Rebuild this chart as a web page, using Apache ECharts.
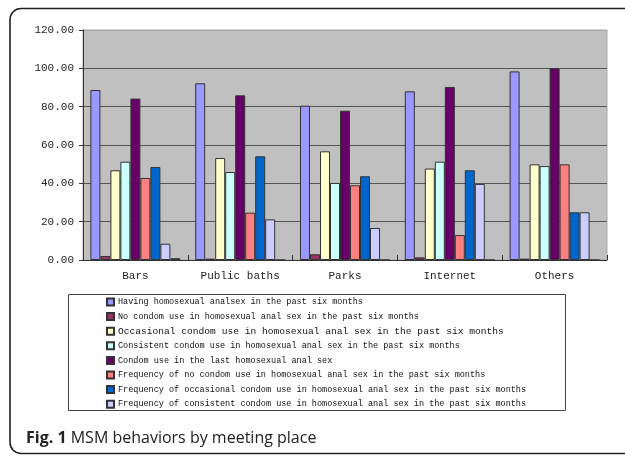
<!DOCTYPE html>
<html>
<head>
<meta charset="utf-8">
<script src="https://cdn.jsdelivr.net/npm/echarts@6/dist/echarts.min.js"></script>
<style>
html,body{margin:0;padding:0;background:#fff;}
#chart{width:625px;height:457px;}
</style>
</head>
<body>
<div id="chart"></div>
<script>
const categories = ['Bars', 'Public baths', 'Parks', 'Internet', 'Others'];
const seriesNames = [
  'Having homosexual analsex in the past six months',
  'No condom use in homosexual anal sex in the past six months',
  'Occasional condom use in homosexual anal sex in the past six months',
  'Consistent condom use in homosexual anal sex in the past six months',
  'Condom use in the last homosexual anal sex',
  'Frequency of no condom use in homosexual anal sex in the past six months',
  'Frequency of occasional condom use in homosexual anal sex in the past six months',
  'Frequency of consistent condom use in homosexual anal sex in the past six months',
  'Unlabelled'
];
const havingSex      = [88.7, 92.2, 80.5, 88.0, 98.4];
const noCondom       = [2.1, 0.7, 3.0, 1.4, 0.7];
const occasional     = [46.8, 53.2, 56.7, 47.7, 49.9];
const consistent     = [51.3, 45.9, 40.2, 51.3, 49.0];
const lastCondom     = [84.2, 85.9, 77.9, 90.3, 100.0];
const freqNoCondom   = [42.8, 24.7, 39.0, 13.0, 49.9];
const freqOccasional = [48.5, 54.1, 43.7, 46.8, 24.9];
const freqConsistent = [8.5, 21.2, 16.7, 39.7, 24.9];
const unlabelled     = [0.9, 0, 0, 0, 0];
const yTicks = [0, 20, 40, 60, 80, 100, 120];

const seriesData = [havingSex, noCondom, occasional, consistent, lastCondom,
  freqNoCondom, freqOccasional, freqConsistent, unlabelled];
const colors = ['#9999FF', '#993366', '#FFFFCC', '#CCFFFF', '#660066',
  '#FF8080', '#0066CC', '#CCCCFF', '#000080'];

const mono = '"Liberation Mono", monospace';
const chart = echarts.init(document.getElementById('chart'), null, {renderer: 'canvas'});

const legendData = seriesNames.slice(0, 8).map((n, i) => {
  if (i === 2) return {name: n, textStyle: {fontSize: 9.6, lineHeight: 10}};
  return {name: n};
});

chart.setOption({
  animation: false,
  color: colors,
  grid: {
    left: 83, right: 18, top: 30, bottom: 197,
    show: true, backgroundColor: '#c0c0c0', borderColor: '#a8a8a8', borderWidth: 1
  },
  legend: {
    data: legendData,
    orient: 'vertical',
    left: 106, top: 297,
    padding: 0,
    itemWidth: 7, itemHeight: 7,
    itemGap: 4.6,
    icon: 'rect',
    textStyle: {fontFamily: mono, fontSize: 8.5, color: '#111', lineHeight: 10, padding: [0, 0, 0, -1]},
    selectedMode: false
  },
  xAxis: {
    type: 'category',
    data: categories,
    axisLine: {show: true, lineStyle: {color: '#333', width: 1}},
    axisTick: {show: true, inside: true, length: 5, lineStyle: {color: '#333'}},
    axisLabel: {fontFamily: mono, fontSize: 11, color: '#222', margin: 11}
  },
  yAxis: {
    type: 'value',
    min: yTicks[0], max: yTicks[yTicks.length - 1], interval: 20,
    axisLine: {show: true, lineStyle: {color: '#333', width: 1}},
    axisTick: {show: true, length: 4, lineStyle: {color: '#333'}},
    axisLabel: {fontFamily: mono, fontSize: 11, color: '#222', margin: 9,
      formatter: v => v.toFixed(2)},
    splitLine: {show: true, lineStyle: {
      color: ['#555', '#555', '#555', '#555', '#555', '#555', '#a8a8a8'], width: 1}}
  },
  series: seriesData.map((d, i) => ({
    name: seriesNames[i],
    type: 'bar',
    data: d,
    barWidth: 10,
    barGap: '0%',
    itemStyle: {color: colors[i], borderColor: '#333', borderWidth: 1}
  })),
  graphic: [
    {
      type: 'rect', silent: true,
      shape: {x: 10, y: 8.5, width: 660, height: 445, r: 11},
      style: {fill: 'none', stroke: '#222', lineWidth: 1.6}
    },
    {
      type: 'rect', silent: true,
      shape: {x: 68.5, y: 294.5, width: 497, height: 116},
      style: {fill: 'none', stroke: '#444', lineWidth: 1}
    },
    {
      type: 'text', silent: true,
      x: 26, y: 438,
      style: {
        text: '{b|Fig. 1} MSM behaviors by meeting place',
        verticalAlign: 'middle',
        fontFamily: '"Open Sans", sans-serif',
        fontSize: 16, fill: '#222',
        rich: {b: {fontFamily: '"Open Sans", sans-serif', fontSize: 16, fontWeight: 'bold', fill: '#222'}}
      }
    }
  ]
});
</script>
</body>
</html>
